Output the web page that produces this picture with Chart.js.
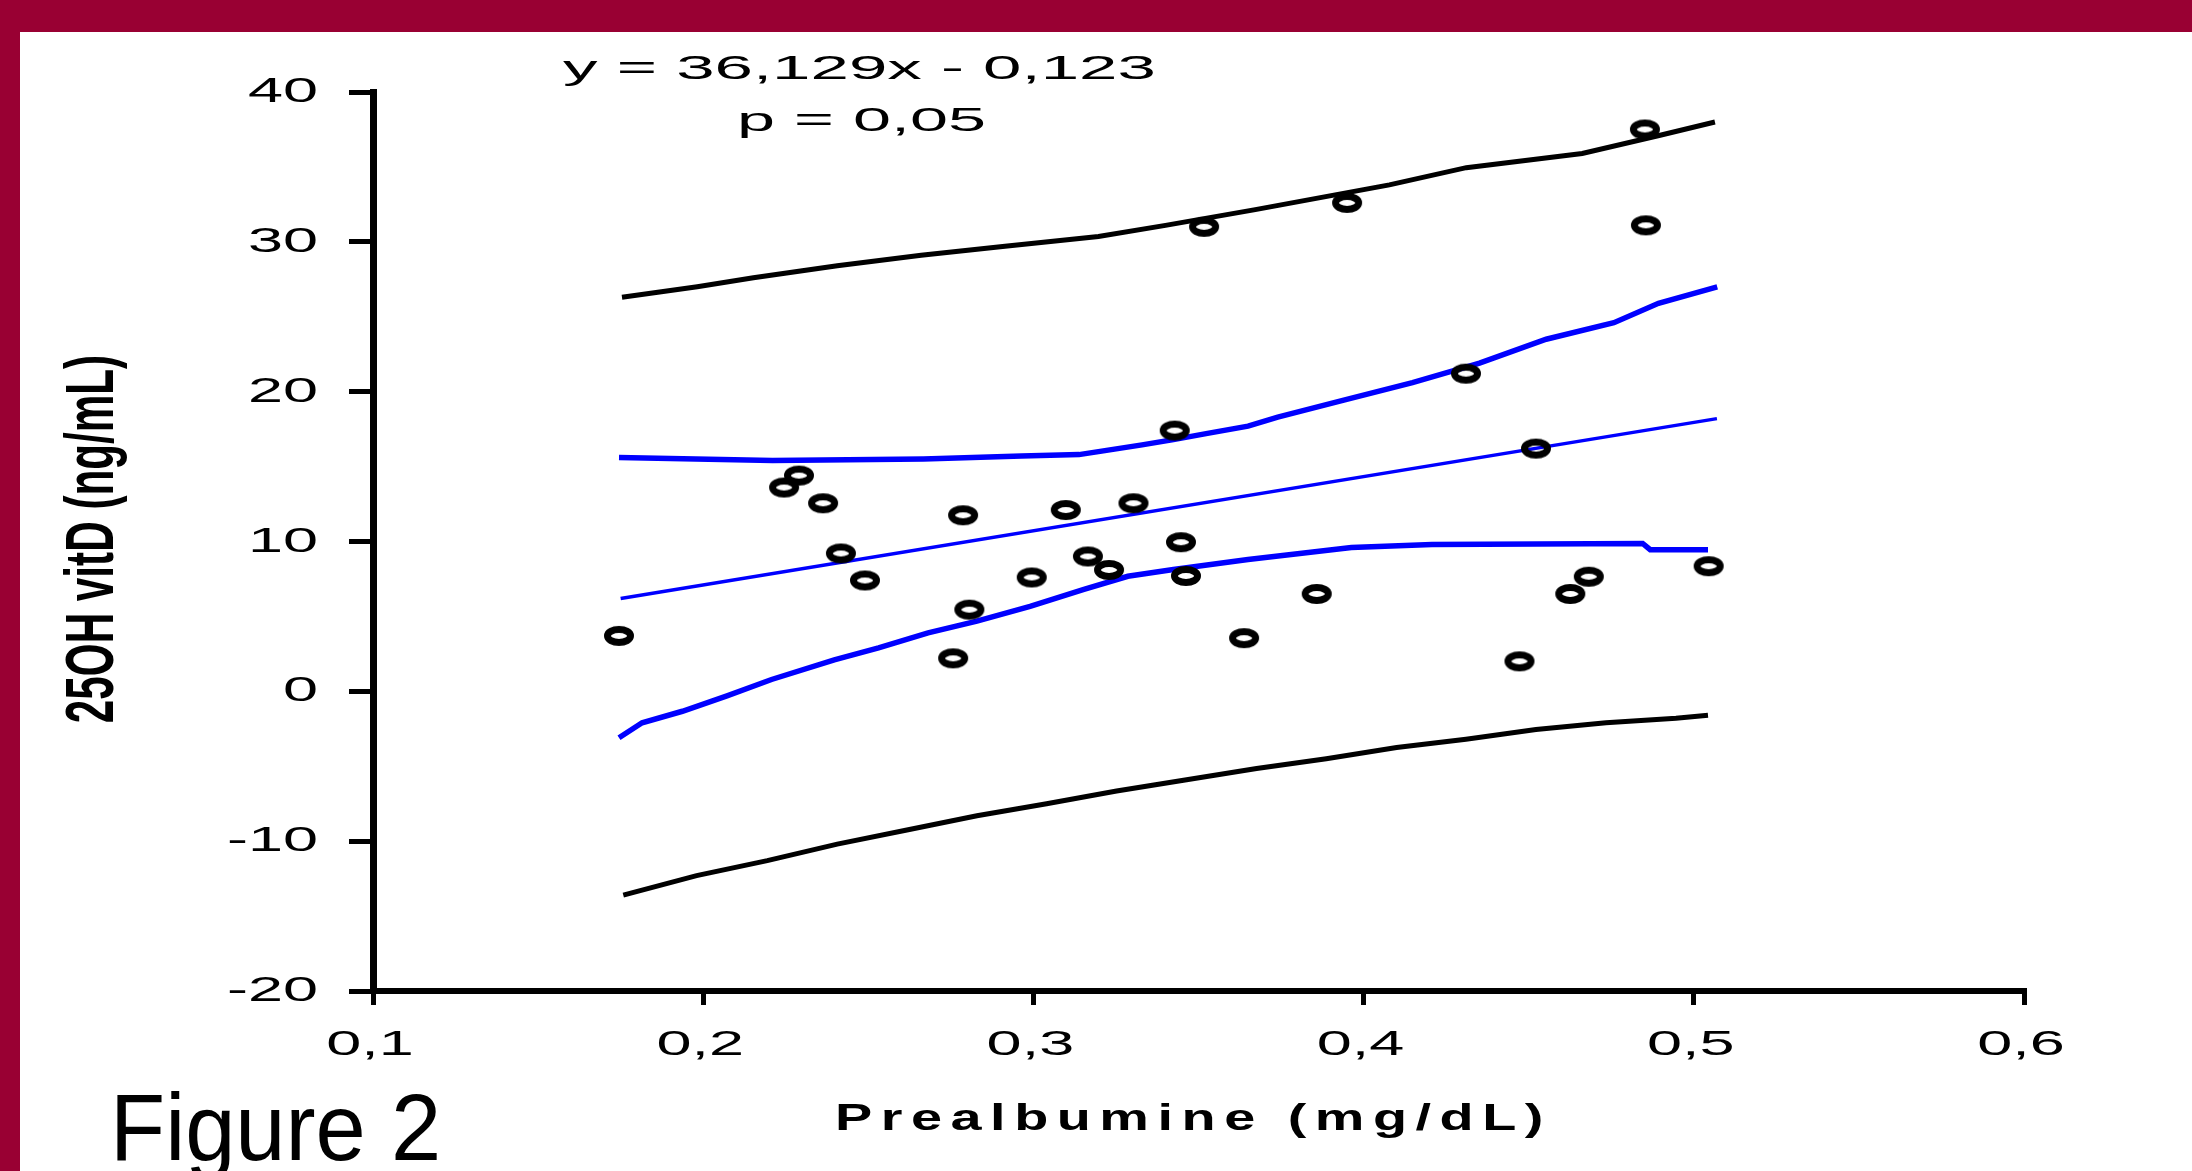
<!DOCTYPE html>
<html>
<head>
<meta charset="utf-8">
<script src="https://cdn.jsdelivr.net/npm/chart.js@4/dist/chart.umd.min.js"></script>
<style>
  body { margin: 0; background: #990033; width: 2192px; height: 1171px; overflow: hidden; }
  #frame { position: absolute; left: 20px; top: 32px; right: 0; bottom: 0; background: #fff; }
  #chart { position: absolute; left: 0; top: 0; }
</style>
</head>
<body>
<div id="frame"></div>
<canvas id="chart" width="2192" height="1171"></canvas>
<script>
// scatter points (prealbumine, 25OH vitD)
let ptX = [0.1745, 0.2245, 0.2290, 0.2363, 0.2417, 0.2490, 0.2757, 0.2787, 0.2806, 0.2995, 0.3098, 0.3165, 0.3229, 0.3303, 0.3428, 0.3447, 0.3462, 0.3517, 0.3638, 0.3858, 0.3950, 0.4310, 0.4472, 0.4522, 0.4626, 0.4682, 0.4852, 0.4855, 0.5045];
let ptY = [3.7, 13.6, 14.4, 12.55, 9.2, 7.4, 2.2, 11.75, 5.45, 7.6, 12.1, 9.0, 8.1, 12.55, 17.4, 9.95, 7.7, 31.0, 3.55, 6.5, 32.6, 21.2, 2.0, 16.2, 6.5, 7.65, 37.5, 31.1, 8.35];

// regression line
let regX = [0.175, 0.507];
let regY = [6.2, 18.2];

// confidence band (blue)
let confUpX = [0.1745, 0.221, 0.2667, 0.2964, 0.3138, 0.3197, 0.3329, 0.3424, 0.3523, 0.365, 0.374, 0.3943, 0.4148, 0.4351, 0.4553, 0.4758, 0.4893, 0.5071];
let confUpY = [15.6, 15.4, 15.5, 15.7, 15.8, 16.0, 16.45, 16.8, 17.2, 17.7, 18.3, 19.45, 20.6, 21.9, 23.5, 24.6, 25.9, 27.0];
let confLoX = [0.1745, 0.1815, 0.1937, 0.2072, 0.2207, 0.2397, 0.2531, 0.2681, 0.2829, 0.299, 0.3153, 0.3286, 0.3424, 0.365, 0.3963, 0.4207, 0.4845, 0.4868, 0.5043];
let confLoY = [-3.1, -2.1, -1.33, -0.3, 0.79, 2.1, 2.9, 3.9, 4.68, 5.67, 6.8, 7.68, 8.13, 8.8, 9.6, 9.8, 9.87, 9.45, 9.45];

// prediction band (black)
let predUpX = [0.1754, 0.1982, 0.2152, 0.2406, 0.266, 0.2914, 0.3197, 0.34, 0.3672, 0.4078, 0.4311, 0.4662, 0.4895, 0.5064];
let predUpY = [26.3, 27.0, 27.6, 28.4, 29.1, 29.7, 30.35, 31.1, 32.15, 33.8, 34.95, 35.9, 37.1, 38.0];
let predLoX = [0.1758, 0.198, 0.2194, 0.2406, 0.2617, 0.2829, 0.304, 0.3252, 0.3464, 0.3676, 0.3887, 0.41, 0.431, 0.4522, 0.4734, 0.4946, 0.5043];
let predLoY = [-13.6, -12.3, -11.3, -10.2, -9.25, -8.3, -7.5, -6.65, -5.9, -5.15, -4.5, -3.75, -3.2, -2.55, -2.1, -1.8, -1.6];

// axes
let xTickValues = [0.1, 0.2, 0.3, 0.4, 0.5, 0.6];
let xTickLabels = ["0,1", "0,2", "0,3", "0,4", "0,5", "0,6"];
let yTickValues = [40, 30, 20, 10, 0, -10, -20];
let yTickLabels = ["40", "30", "20", "10", "0", "-10", "-20"];

let xTitle = "Prealbumine (mg/dL)";
let yTitle = "25OH vitD (ng/mL)";
let eqText = "y = 36,129x - 0,123";
let pText = "p = 0,05";
let figText = "Figure 2";

function toPoints(xs, ys) {
  return xs.map((x, i) => ({ x: x, y: ys[i] }));
}

// open ellipse marker like the original, thick ring
let ring = document.createElement("canvas");
ring.width = 32;
ring.height = 22;
let rc = ring.getContext("2d");
rc.lineWidth = 7;
rc.strokeStyle = "#000";
rc.beginPath();
rc.ellipse(16, 11, 11.5, 6.5, 0, 0, Math.PI * 2);
rc.stroke();

const FONT = "'Liberation Sans', Arial, sans-serif";

// text in the original is stretched / squeezed, so draw it with a scale
function drawText(ctx, text, x, y, o) {
  ctx.save();
  ctx.translate(x, y);
  if (o.rotate) ctx.rotate(o.rotate);
  ctx.scale(o.sx || 1, 1);
  ctx.font = o.font;
  ctx.letterSpacing = o.ls || "0px";
  ctx.textAlign = o.align || "left";
  ctx.textBaseline = "alphabetic";
  ctx.fillStyle = "#000";
  ctx.fillText(text, 0, 0);
  ctx.restore();
}

const textPlugin = {
  id: "texts",
  afterDraw(chart) {
    let ctx = chart.ctx;
    let xs = chart.scales.x;
    let ys = chart.scales.y;

    xTickValues.forEach((v, i) => {
      drawText(ctx, xTickLabels[i], xs.getPixelForValue(v) - 3, 1055, {
        font: "35px " + FONT, sx: 1.8, align: "center"
      });
    });
    yTickValues.forEach((v, i) => {
      drawText(ctx, yTickLabels[i], 318, ys.getPixelForValue(v) + 10, {
        font: "35px " + FONT, sx: 1.8, align: "right"
      });
    });

    drawText(ctx, yTitle, 113, 539, {
      font: "bold 69px " + FONT, sx: 0.612, align: "center", rotate: -Math.PI / 2
    });
    drawText(ctx, xTitle, 835, 1130, {
      font: "bold 36px " + FONT, sx: 1.55, ls: "5.5px"
    });

    drawText(ctx, eqText, 563, 79, { font: "34px " + FONT, sx: 2.03 });
    drawText(ctx, pText, 737, 131, { font: "34px " + FONT, sx: 2.01 });
    drawText(ctx, figText, 110, 1160, { font: "95px " + FONT, sx: 0.95 });
  }
};

function lineSet(xs, ys, color, width) {
  return {
    data: toPoints(xs, ys),
    showLine: true,
    borderColor: color,
    borderWidth: width,
    pointRadius: 0,
    tension: 0,
    fill: false
  };
}

let ctx = document.getElementById("chart").getContext("2d");

new Chart(ctx, {
  type: "scatter",
  data: {
    datasets: [
      {
        data: toPoints(ptX, ptY),
        pointStyle: ring,
        pointRadius: 11,
        showLine: false
      },
      lineSet(regX, regY, "#0000ff", 3.5),
      lineSet(confUpX, confUpY, "#0000ff", 5.5),
      lineSet(confLoX, confLoY, "#0000ff", 5.5),
      lineSet(predUpX, predUpY, "#000000", 5),
      lineSet(predLoX, predLoY, "#000000", 5)
    ]
  },
  options: {
    responsive: false,
    animation: false,
    layout: { padding: { left: 349, right: 168, top: 92, bottom: 166 } },
    plugins: {
      legend: { display: false },
      tooltip: { enabled: false }
    },
    scales: {
      x: {
        type: "linear",
        min: 0.1,
        max: 0.6,
        afterBuildTicks: (axis) => {
          axis.ticks = xTickValues.map((v) => ({ value: v }));
        },
        ticks: { display: false },
        grid: { drawOnChartArea: false, drawTicks: true, tickLength: 14, color: "#000", lineWidth: 5 },
        border: { color: "#000", width: 6 }
      },
      y: {
        type: "linear",
        min: -20,
        max: 40,
        afterBuildTicks: (axis) => {
          axis.ticks = yTickValues.map((v) => ({ value: v }));
        },
        ticks: { display: false },
        grid: { drawOnChartArea: false, drawTicks: true, tickLength: 24, color: "#000", lineWidth: 5 },
        border: { color: "#000", width: 7 }
      }
    }
  },
  plugins: [textPlugin]
});
</script>
</body>
</html>
